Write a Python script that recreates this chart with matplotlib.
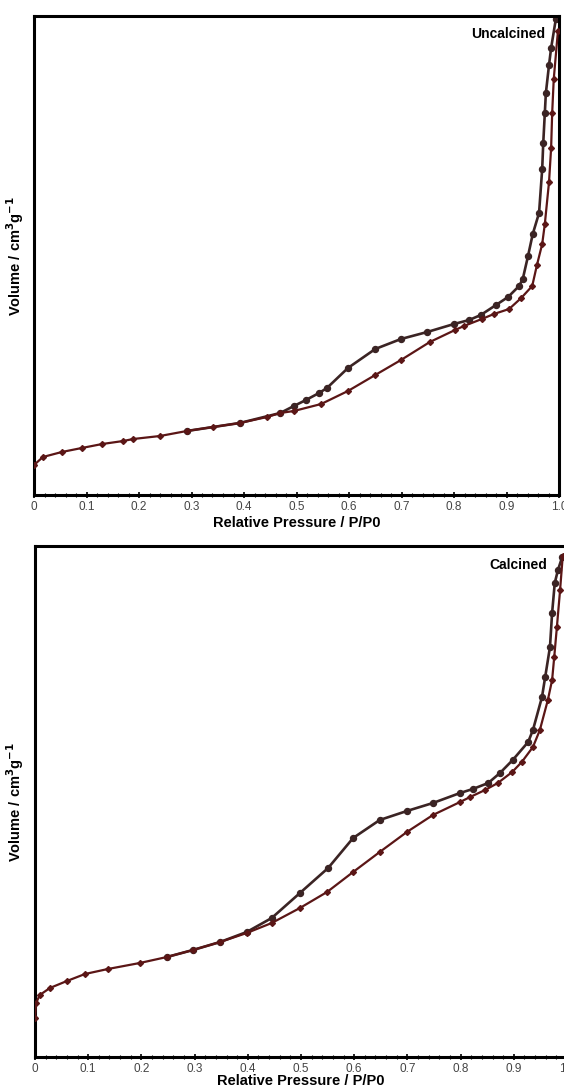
import matplotlib
matplotlib.use('Agg')
import matplotlib.pyplot as plt
from matplotlib.ticker import MultipleLocator

plt.rcParams['font.family'] = ['Liberation Sans', 'DejaVu Sans']

# Uncalcined sample (relative pressure, volume in arbitrary units)
unc_ads_p = [0, 0.017, 0.053, 0.091, 0.130, 0.170, 0.189, 0.240, 0.291, 0.341,
             0.392, 0.444, 0.469, 0.495, 0.547, 0.598, 0.650, 0.699, 0.754, 0.802,
             0.819, 0.853, 0.876, 0.905, 0.928, 0.949, 0.958, 0.968, 0.973, 0.981,
             0.985, 0.987, 0.990, 0.998]
unc_ads_v = [30, 38, 43, 47, 51, 54, 56, 59, 64, 68,
             72, 78, 82, 84, 91, 104, 120, 135, 153, 165,
             169, 176, 181, 186, 197, 209, 230, 251, 271, 313,
             347, 382, 416, 464]
unc_des_p = [0.291, 0.392, 0.469, 0.495, 0.518, 0.543, 0.558, 0.598, 0.650, 0.699,
             0.749, 0.800, 0.829, 0.851, 0.880, 0.903, 0.924, 0.931, 0.941, 0.950,
             0.962, 0.968, 0.970, 0.973, 0.975, 0.981, 0.985, 0.994]
unc_des_v = [64, 72, 82, 89, 95, 102, 107, 127, 146, 156,
             163, 171, 175, 180, 190, 198, 209, 216, 239, 261,
             282, 326, 352, 382, 402, 430, 447, 476]

# Calcined sample
cal_ads_p = [0, 0.002, 0.009, 0.028, 0.060, 0.094, 0.137, 0.197, 0.248, 0.297,
             0.348, 0.398, 0.445, 0.498, 0.549, 0.598, 0.648, 0.699, 0.748, 0.799,
             0.818, 0.846, 0.870, 0.897, 0.915, 0.936, 0.949, 0.964, 0.972, 0.976,
             0.981, 0.987, 0.992]
cal_ads_v = [39, 54, 62, 69, 76, 83, 88, 94, 100, 107,
             115, 124, 134, 149, 165, 185, 205, 225, 242, 255,
             260, 267, 274, 285, 295, 310, 327, 357, 377, 400,
             430, 467, 501]
cal_des_p = [0.248, 0.297, 0.348, 0.398, 0.445, 0.498, 0.551, 0.598, 0.648, 0.699,
             0.748, 0.799, 0.823, 0.852, 0.874, 0.898, 0.927, 0.936, 0.953, 0.959,
             0.968, 0.972, 0.977, 0.983, 0.991]
cal_des_v = [100, 107, 115, 125, 139, 164, 189, 219, 237, 246,
             254, 264, 268, 274, 284, 297, 315, 327, 360, 380,
             410, 444, 474, 487, 500]

tick_vals = [0, 0.1, 0.2, 0.3, 0.4, 0.5, 0.6, 0.7, 0.8, 0.9, 1.0]
tick_text = ['0', '0.1', '0.2', '0.3', '0.4', '0.5', '0.6', '0.7', '0.8', '0.9', '1.0']

ADS_COLOR = '#5b1616'
DES_COLOR = '#3b2424'
YLABEL = 'Volume / cm$^{\\mathbf{3}}$g$^{\\mathbf{-1}}$'

fig = plt.figure(figsize=(5.64, 10.89), dpi=100)
ax1 = fig.add_axes([34 / 564, 1 - 495 / 1089, 525 / 564, 479 / 1089])
ax2 = fig.add_axes([35 / 564, 1 - 1057 / 1089, 532 / 564, 511 / 1089])


def draw_panel(ax, ads_p, ads_v, des_p, des_v, ytop, name, nx, ny, ylab_x, xpad):
    ax.plot(ads_p, ads_v, color=ADS_COLOR, lw=1.6, marker='D', ms=3.0,
            zorder=3)
    ax.plot(des_p, des_v, color=DES_COLOR, lw=1.9, marker='o', ms=4.3,
            zorder=2)
    ax.set_xlim(0, 1.0)
    ax.set_ylim(0, ytop)
    ax.set_yticks([])
    ax.set_xticks(tick_vals)
    ax.set_xticklabels(tick_text)
    ax.xaxis.set_minor_locator(MultipleLocator(0.02))
    ax.tick_params(axis='x', which='major', direction='inout', length=5,
                   width=1.2, labelsize=8.5, labelcolor='#444444', pad=2)
    ax.tick_params(axis='x', which='minor', direction='inout', length=2.5,
                   width=0.8)
    for s in ax.spines.values():
        s.set_linewidth(2.2)
        s.set_color('black')
    ax.set_xlabel('Relative Pressure / P/P0', fontsize=10.5, fontweight='bold',
                  labelpad=xpad)
    ax.text(nx, ny, name, transform=ax.transAxes, ha='right',
            va='center', fontsize=10, fontweight='bold')
    ax.set_ylabel(YLABEL, fontsize=10.5, fontweight='bold')
    ax.yaxis.set_label_coords(ylab_x, 0.5)


draw_panel(ax1, unc_ads_p, unc_ads_v, unc_des_p, unc_des_v, 479,
           'Uncalcined', 0.973, 0.962, -0.015, 2)
draw_panel(ax2, cal_ads_p, cal_ads_v, cal_des_p, cal_des_v, 511,
           'Calcined', 0.962, 0.962, -0.016, -1)
ax2.spines['right'].set_visible(False)

fig.savefig('out.png', dpi=100)
